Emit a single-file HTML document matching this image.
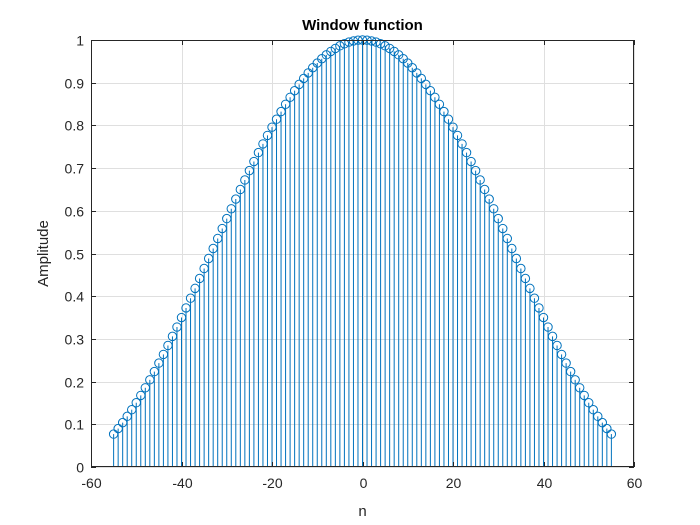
<!DOCTYPE html>
<html><head><meta charset="utf-8">
<style>
html,body{margin:0;padding:0;background:#fff;}
svg{display:block;font-family:"Liberation Sans",sans-serif;}
</style></head>
<body>
<svg id="chart" width="700" height="525" viewBox="0 0 700 525"></svg>
<script>
const xTicks=[-60,-40,-20,0,20,40,60];
const yTicks=[0,0.1,0.2,0.3,0.4,0.5,0.6,0.7,0.8,0.9,1];
const yTickLabels=["0","0.1","0.2","0.3","0.4","0.5","0.6","0.7","0.8","0.9","1"];
const ns=[];for(let n=-55;n<=55;n++)ns.push(n);
const values=[0.0771,0.0900,0.1039,0.1186,0.1342,0.1505,0.1677,0.1855,0.2041,0.2234,0.2433,0.2637,0.2846,0.3059,0.3278,0.3500,0.3725,0.3953,0.4183,0.4415,0.4649,0.4883,0.5117,0.5351,0.5585,0.5817,0.6047,0.6275,0.6500,0.6722,0.6941,0.7154,0.7363,0.7567,0.7766,0.7959,0.8145,0.8323,0.8495,0.8658,0.8814,0.8961,0.9100,0.9229,0.9350,0.9460,0.9561,0.9652,0.9733,0.9803,0.9863,0.9912,0.9951,0.9978,0.9995,1.0000,0.9995,0.9978,0.9951,0.9912,0.9863,0.9803,0.9733,0.9652,0.9561,0.9460,0.9350,0.9229,0.9100,0.8961,0.8814,0.8658,0.8495,0.8323,0.8145,0.7959,0.7766,0.7567,0.7363,0.7154,0.6941,0.6722,0.6500,0.6275,0.6047,0.5817,0.5585,0.5351,0.5117,0.4883,0.4649,0.4415,0.4183,0.3953,0.3725,0.3500,0.3278,0.3059,0.2846,0.2637,0.2433,0.2234,0.2041,0.1855,0.1677,0.1505,0.1342,0.1186,0.1039,0.0900,0.0771];

const L=91,R=634,T=40,B=467;
const xMin=-60,xMax=60,yMin=0,yMax=1;
const xs=v=>L+(v-xMin)/(xMax-xMin)*(R-L);
const ys=v=>B-(v-yMin)/(yMax-yMin)*(B-T);
const svg=document.getElementById('chart');
const NS="http://www.w3.org/2000/svg";
function mk(tag,attrs,parent){const e=document.createElementNS(NS,tag);for(const k in attrs)e.setAttribute(k,attrs[k]);(parent||svg).appendChild(e);return e;}

const bg=mk('rect',{x:L,y:T,width:R-L,height:B-T,fill:'#fff'});



const grid=mk('g',{stroke:'#dfdfdf','stroke-width':1});


xTicks.forEach(t=>{const x=Math.round(xs(t))+0.5;mk('line',{x1:x,x2:x,y1:T,y2:B},grid);});
yTicks.forEach(t=>{const y=Math.round(ys(t))+0.5;mk('line',{x1:L,x2:R,y1:y,y2:y},grid);});

const stems=mk('g',{stroke:'#0072BD','stroke-width':1,fill:'none'});


ns.forEach((n,i)=>{
  const x=xs(n),y=ys(values[i]);
  const ln=mk('line',{x1:x,x2:x,y1:ys(0),y2:y},stems);
  
  
});
ns.forEach((n,i)=>{
  const c=mk('circle',{cx:xs(n),cy:ys(values[i]),r:4.2,fill:'none',stroke:'#0072BD','stroke-width':1},stems);
  
  
});

const box=mk('rect',{x:L+0.5,y:T+0.5,width:R-L-1,height:B-T-1,fill:'none',stroke:'#262626','stroke-width':1});



const xt=mk('g',{fill:'#262626','font-size':14,'text-anchor':'middle'});


xTicks.forEach(t=>{
  const x=Math.round(xs(t))+0.5;
  mk('line',{x1:x,x2:x,y1:B,y2:B-5,stroke:'#262626'},svg);
  mk('line',{x1:x,x2:x,y1:T,y2:T+5,stroke:'#262626'},svg);
  const tx=mk('text',{x:x,y:B+21},xt);tx.textContent=String(t);
  
  
});
const yt=mk('g',{fill:'#262626','font-size':14,'text-anchor':'end'});


yTicks.forEach((t,i)=>{
  const y=Math.round(ys(t))+0.5;
  mk('line',{x1:L,x2:L+5,y1:y,y2:y,stroke:'#262626'},svg);
  mk('line',{x1:R,x2:R-5,y1:y,y2:y,stroke:'#262626'},svg);
  const tx=mk('text',{x:L-7,y:y+5},yt);tx.textContent=yTickLabels[i];
  
  
});

const title=mk('text',{x:(L+R)/2,y:30,'text-anchor':'middle','font-size':15,'font-weight':'bold',fill:'#000'});
title.textContent='Window function';



const xl=mk('text',{x:(L+R)/2,y:516,'text-anchor':'middle','font-size':15,fill:'#262626'});
xl.textContent='n';



const yl=mk('text',{x:48,y:(T+B)/2,'text-anchor':'middle','font-size':15,fill:'#262626',transform:'rotate(-90 48 '+((T+B)/2)+')'});
yl.textContent='Amplitude';


</script>
</body></html>
